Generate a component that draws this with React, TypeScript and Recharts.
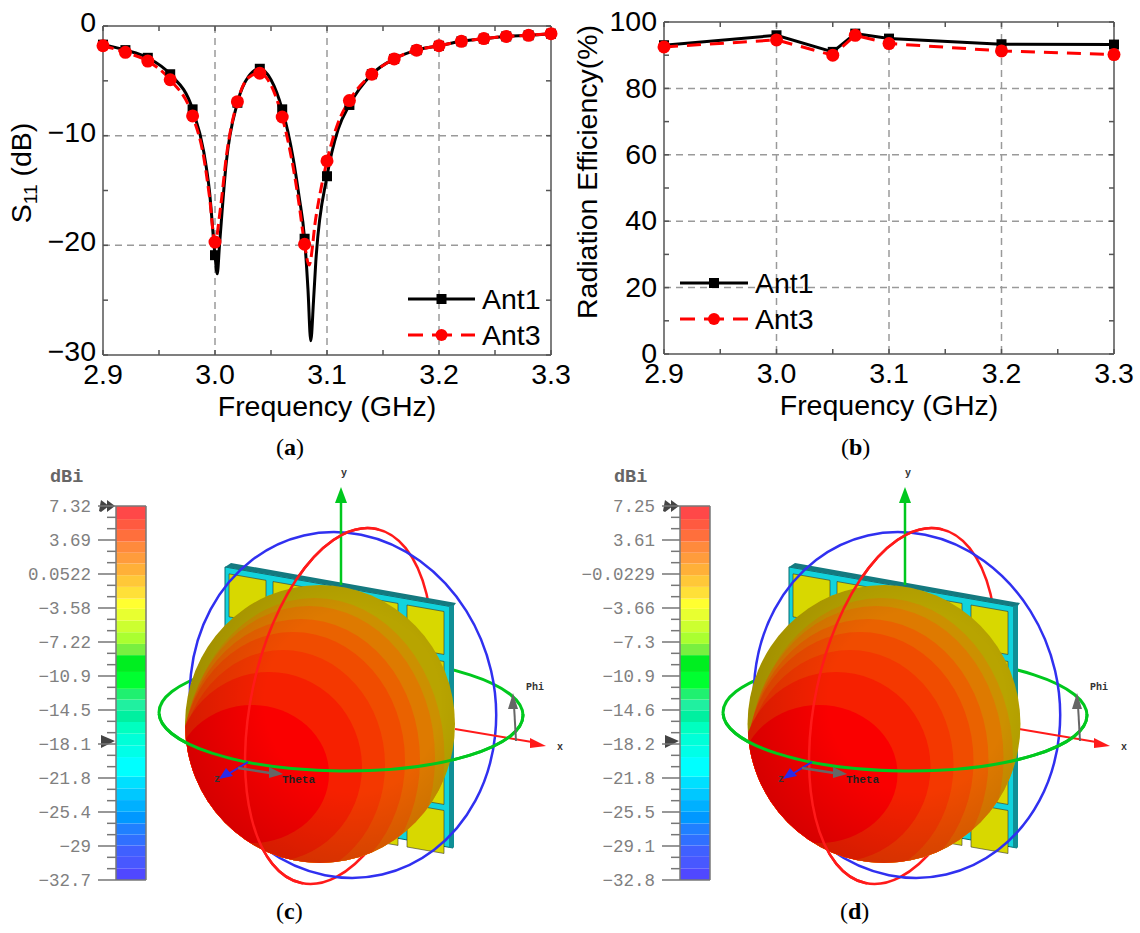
import React from 'react';
import { LineChart, Line, XAxis, YAxis, CartesianGrid, Legend, BarChart, Bar } from 'recharts';

const SANS = '"Liberation Sans", Arial, sans-serif';
const MONO = '"Liberation Mono", monospace';
const FS = 28.5;

// ---- S11 panel data
const ant1Freq = [2.9, 2.92, 2.94, 2.96, 2.98, 2.99, 2.995, 3.0, 3.002, 3.004, 3.01, 3.02, 3.03, 3.04, 3.05, 3.06, 3.065, 3.07, 3.075, 3.08, 3.083, 3.0855, 3.088, 3.09, 3.1, 3.11, 3.12, 3.14, 3.16, 3.18, 3.2, 3.22, 3.24, 3.26, 3.28, 3.3];
const ant1S11 = [-1.7, -2.2, -2.9, -4.4, -7.6, -11.5, -15, -20.9, -22.6, -20, -12.5, -7.0, -4.6, -3.9, -4.9, -7.6, -9.6, -12.2, -15.5, -19.4, -24, -28.7, -25, -21.5, -13.7, -9.4, -7.2, -4.4, -3.0, -2.2, -1.8, -1.4, -1.15, -0.95, -0.85, -0.7];
const ant3Freq = [2.9, 2.92, 2.94, 2.96, 2.98, 2.99, 2.995, 3.0, 3.005, 3.01, 3.02, 3.03, 3.04, 3.05, 3.06, 3.065, 3.07, 3.075, 3.08, 3.084, 3.09, 3.1, 3.11, 3.12, 3.14, 3.16, 3.18, 3.2, 3.22, 3.24, 3.26, 3.28, 3.3];
const ant3S11 = [-1.8, -2.4, -3.2, -4.9, -8.2, -12, -15.5, -19.7, -16.5, -12, -6.9, -4.7, -4.3, -5.4, -8.3, -10.4, -13, -16.2, -19.9, -21.8, -17.5, -12.3, -8.8, -6.8, -4.4, -3.0, -2.2, -1.8, -1.4, -1.15, -0.95, -0.85, -0.7];
const s11Markers = [2.9, 2.92, 2.94, 2.96, 2.98, 3.0, 3.02, 3.04, 3.06, 3.08, 3.1, 3.12, 3.14, 3.16, 3.18, 3.2, 3.22, 3.24, 3.26, 3.28, 3.3];

// ---- Efficiency panel data
const effFreq = [2.9, 3.0, 3.05, 3.07, 3.1, 3.2, 3.3];
const effAnt1 = [93, 96, 91, 96.5, 95, 93.3, 93.2];
const effAnt3 = [92.5, 94.6, 90, 96, 93.5, 91.3, 90.2];

// ---- Axis ticks
const freqTicks = [2.9, 2.95, 3.0, 3.05, 3.1, 3.15, 3.2, 3.25, 3.3];
const freqMajor = [2.9, 3.0, 3.1, 3.2, 3.3];
const freqGrid = [3.0, 3.1, 3.2];
const s11Ticks = [-30, -25, -20, -15, -10, -5, 0];
const s11Major = [-30, -20, -10, 0];
const s11Grid = [-10, -20];
const effTicks = [0, 10, 20, 30, 40, 50, 60, 70, 80, 90, 100];
const effMajor = [0, 20, 40, 60, 80, 100];
const effGrid = [20, 40, 60, 80];

// ---- Colour scale panels
const labelsC = ['7.32', '3.69', '0.0522', '-3.58', '-7.22', '-10.9', '-14.5', '-18.1', '-21.8', '-25.4', '-29', '-32.7'];
const labelsD = ['7.25', '3.61', '-0.0229', '-3.66', '-7.3', '-10.9', '-14.6', '-18.2', '-21.8', '-25.5', '-29.1', '-32.8'];
const bandColors = ['#ff4848', '#ff5a40', '#ff6f3c', '#ff8a3c', '#ff9c3c', '#ffb038', '#ffc838', '#ffe038', '#ffff30', '#e8ff30', '#ccff30', '#aaff30', '#78f040', '#00ee20', '#00ff30', '#20f070', '#20f0a0', '#00f0a0', '#00ffc0', '#00ffd8', '#00ffe8', '#00ffff', '#00e0ff', '#00c8ff', '#00b0ff', '#0098ff', '#2080ff', '#3070ff', '#4060ff', '#4858ff', '#5048ff'];
const bandSizes = [1.4, 1.15, 1.25, 1.2, 1.15, 1.25, 1.25, 1.25, 1.1, 1.25, 1.25, 1.25, 1.2, 1.8, 1.8, 1.15, 1.15, 1.25, 1.25, 1.25, 1.25, 2.1, 1.25, 1.25, 1.25, 1.25, 1.2, 1.15, 1.15, 1.3, 1.25];

// ---- Sphere shading bands, innermost first
const sphereCx = [252, 269, 283, 293, 301, 309, 314.5];
const sphereCy = [774, 767, 765, 761, 760, 758, 757];
const sphereRx = [77, 93, 102, 112, 119, 126, 130];
const sphereRy = [69, 95, 115, 129, 141, 152, 159];
const sphereColors = ['#fa0000', '#f62000', '#f43800', '#f04c00', '#ea6200', '#de7a00', '#cc9000', '#b8a400'];

const zip = (xs: number[], ys: number[]) => xs.map((f, i) => ({ f, v: ys[i] }));

function marker(props: any, kind: 'square' | 'circle', only?: number[]) {
  const { cx, cy, payload, index } = props;
  if (only && !only.includes(payload.f)) return <g key={index} />;
  if (kind === 'square') return <rect key={index} x={cx - 5} y={cy - 5} width={10} height={10} fill="#000" />;
  return <circle key={index} cx={cx} cy={cy} r={6.5} fill="#ff0000" />;
}

function legendContent(gapText: number, lineW: number) {
  return (props: any) => (
    <div>
      {(props.payload || []).filter((p: any) => p.value === 'Ant1' || p.value === 'Ant3').map((p: any, i: number) => (
        <div key={i} style={{ height: 36, display: 'flex', alignItems: 'center', fontFamily: SANS, fontSize: FS, color: '#000' }}>
          <svg width={lineW} height={20} style={{ marginRight: gapText, overflow: 'visible' }}>
            <line x1={0} x2={lineW} y1={10} y2={10} stroke={p.color} strokeWidth={3} strokeDasharray={p.value === 'Ant3' ? '15 9 20 9' : undefined} />
            {p.value === 'Ant1'
              ? <rect x={lineW / 2 - 5} y={5} width={10} height={10} fill="#000" />
              : <circle cx={lineW / 2} cy={10} r={6} fill="#ff0000" />}
          </svg>
          <span>{p.value}</span>
        </div>
      ))}
    </div>
  );
}

function Panel(props: {
  left: number; width: number; plotLeft: number; plotRight: number; plotTop: number; plotBottom: number;
  yTicks: number[]; yMajor: number[]; yGrid: number[]; yDomain: [number, number]; yDy: number;
  d1: any[]; d3: any[]; markers?: number[]; curve: any; yLabel: any; legendLeft: number; legendTop: number;
  lineW: number; dash: string;
}) {
  const H = 440;
  const axisW = 60;
  const frame = { stroke: '#555', strokeWidth: 1.5 };
  const xf = (v: number) => (freqMajor.includes(v) ? v.toFixed(1) : '');
  const yf = (v: number) => (props.yMajor.includes(v) ? String(v).replace('-', '\u2212') : '');
  const tickStyle = { fill: '#000', fontSize: FS, fontFamily: SANS };
  return (
    <div style={{ position: 'absolute', left: props.left, top: 0 }}>
      <LineChart
        width={props.width} height={H}
        margin={{ top: props.plotTop - 1, left: props.plotLeft - axisW, right: props.width - props.plotRight - 1, bottom: H - props.plotBottom - 50 }}
      >
        <CartesianGrid xAxisId="b" yAxisId="l" horizontalValues={props.yGrid} verticalValues={freqGrid} stroke="#9a9a9a" strokeWidth={1.5} strokeDasharray="7 5" />
        <XAxis xAxisId="b" dataKey="f" type="number" domain={[2.9, 3.3]} ticks={freqTicks} interval={0}
          tickFormatter={xf} tick={tickStyle} tickSize={-5} tickMargin={14} height={50} axisLine={frame} tickLine={frame}
          label={{ value: 'Frequency (GHz)', position: 'bottom', offset: -9, fill: '#000', fontSize: FS, fontFamily: SANS }} />
        <XAxis xAxisId="t" orientation="top" dataKey="f" type="number" domain={[2.9, 3.3]} ticks={freqTicks} interval={0}
          tickFormatter={() => ''} tickSize={-5} height={1} axisLine={frame} tickLine={frame} />
        <YAxis yAxisId="l" type="number" domain={props.yDomain} ticks={props.yTicks} interval={0} tickFormatter={yf}
          tick={{ ...tickStyle, dy: props.yDy }} tickSize={-5} tickMargin={12} width={axisW} axisLine={frame} tickLine={frame} label={props.yLabel} />
        <YAxis yAxisId="r" orientation="right" type="number" domain={props.yDomain} ticks={props.yTicks} interval={0}
          tickFormatter={() => ''} tickSize={-5} width={1} axisLine={frame} tickLine={frame} />
        <Legend layout="vertical" align="center" verticalAlign="middle" content={legendContent(7, props.lineW)}
          wrapperStyle={{ left: props.legendLeft, top: props.legendTop, width: 170, height: 72 }} />
        <Line xAxisId="t" yAxisId="r" data={props.d1} dataKey="v" name="frame" stroke="none" dot={false} activeDot={false} legendType="none" isAnimationActive={false} />
        <Line xAxisId="b" yAxisId="l" data={props.d1} dataKey="v" name="Ant1" type={props.curve} stroke="#000" strokeWidth={3}
          dot={(p: any) => marker(p, 'square', props.markers)} activeDot={false} isAnimationActive={false} />
        <Line xAxisId="b" yAxisId="l" data={props.d3} dataKey="v" name="Ant3" type={props.curve} stroke="#ff0000" strokeWidth={3} strokeDasharray={props.dash}
          dot={(p: any) => marker(p, 'circle', props.markers)} activeDot={false} isAnimationActive={false} />
      </LineChart>
    </div>
  );
}

const s11Label = () => (
  <text x={31} y={173} transform="rotate(-90 31 173)" textAnchor="middle" fontFamily={SANS} fontSize={FS} fill="#000">
    S<tspan fontSize={19} dy={6}>11</tspan><tspan dy={-6}> (dB)</tspan>
  </text>
);
const effLabel = () => (
  <text x={27} y={172} transform="rotate(-90 27 172)" textAnchor="middle" fontFamily={SANS} fontSize={FS} fill="#000">
    Radiation Efficiency(%)
  </text>
);

function ScaleTick(p: any) {
  const major = p.index % 3 === 0;
  const lab = major ? p.labels[p.index / 3] : '';
  const w = major ? 18 : 9;
  return (
    <g>
      <rect x={116 - w} y={p.y - 0.75} width={w} height={1.5} fill="#777" />
      <text x={91} y={p.y + 6} textAnchor="end" fontFamily={MONO} fontSize={17.5} fill="#808080">{lab.replace('-', '\u2212')}</text>
    </g>
  );
}

function ColorBar({ left, labels }: { left: number; labels: string[] }) {
  const row: any = { c: 'scale' };
  const rev = [...bandSizes].reverse();
  const revColors = [...bandColors].reverse();
  rev.forEach((s, i) => { row['b' + i] = s; });
  const total = bandSizes.reduce((a, b) => a + b, 0);
  const step = total / (labels.length - 1);
  const ticks: number[] = [];
  for (let i = 0; i < labels.length; i++) {
    ticks.push(total - i * step);
    if (i < labels.length - 1) { ticks.push(total - i * step - step / 3); ticks.push(total - i * step - (2 * step) / 3); }
  }
  const frame = { stroke: '#777', strokeWidth: 1.5 };
  return (
    <div style={{ position: 'absolute', left, top: 490 }}>
      <BarChart width={150} height={410} data={[row]} barCategoryGap={0} margin={{ top: 15, left: 0, right: 3, bottom: 19 }}>
        <XAxis xAxisId="b" dataKey="c" height={1} tick={false} tickLine={false} axisLine={frame} />
        <XAxis xAxisId="t" orientation="top" dataKey="c" height={1} tick={false} tickLine={false} axisLine={frame} />
        <YAxis yAxisId="l" type="number" domain={[0, total]} ticks={ticks} interval={0} width={116} tick={<ScaleTick labels={labels} />} tickLine={false} axisLine={frame} />
        <YAxis yAxisId="r" orientation="right" type="number" domain={[0, total]} ticks={[0, total]} width={1} tick={false} tickLine={false} axisLine={frame} />
        {rev.map((_, i) => (
          <Bar key={i} xAxisId="b" yAxisId="l" dataKey={'b' + i} stackId="s" fill={revColors[i]} isAnimationActive={false} />
        ))}
      </BarChart>
    </div>
  );
}

function Scene({ left, id, grow }: { left: number; id: string; grow: number }) {
  const cx = 320; const cy = 724; const rx = 135 + grow; const ry = 139;
  const cols = [229, 273, 317, 361, 407];
  const rows = [605, 655, 705, 755, 804];
  const sk = 0.175;
  const patch = (x: number, y: number) => {
    const w = 37; const h = 43;
    const d0 = (x - 407) * sk;
    const d1 = (x + w - 407) * sk;
    return `${x},${y + d0} ${x + w},${y + d1} ${x + w},${y + d1 + h} ${x},${y + d0 + h}`;
  };
  return (
    <svg width={570} height={480} viewBox="0 450 570 480" style={{ position: 'absolute', left, top: 450 }}>
      <defs>
        <clipPath id={id + 'ball'}><ellipse cx={cx} cy={cy} rx={rx} ry={ry} /></clipPath>
        <clipPath id={id + 'redfront'}><rect x={0} y={450} width={341} height={480} /></clipPath>
        <clipPath id={id + 'greenfront'}><rect x={0} y={714} width={570} height={200} /></clipPath>
        <radialGradient id={id + 'shade'} cx="0.62" cy="0.42" r="0.72">
          <stop offset="0.45" stopColor="#000" stopOpacity={0} />
          <stop offset="1" stopColor="#000" stopOpacity={0.18} />
        </radialGradient>
      </defs>
      <ellipse cx={339} cy={706} rx={88} ry={181} transform="rotate(12 339 706)" fill="none" stroke="#ff1a1a" strokeWidth={2.5} />
      <ellipse cx={341} cy={714} rx={182} ry={57} fill="none" stroke="#00c81e" strokeWidth={3} transform="rotate(0.5 341 714)" />
      <polygon points="225,567 453,607 453,848 225,808" fill="#12d3dc" stroke="#0a6a70" strokeWidth={1} />
      <polygon points="225,567 231,563 456,603 453,607" fill="#14797f" />
      <polygon points="449,606 454,605 454,847 449,848" fill="#0f8f96" />
      {rows.flatMap((y, r) => cols.map((x, c) => (
        <polygon key={r + '-' + c} points={patch(x, y)} fill="#d8d800" stroke="#333" strokeWidth={0.6} />
      )))}
      <ellipse cx={343} cy={705} rx={152} ry={174} transform="rotate(-13 343 705)" fill="none" stroke="#3030f0" strokeWidth={2.5} />
      <line x1={341} y1={585} x2={341} y2={500} stroke="#00c81e" strokeWidth={2.5} />
      <polygon points="341,487 335,503 347,503" fill="#00c81e" />
      <line x1={455} y1={729} x2={532} y2={742} stroke="#ff1a1a" strokeWidth={2} />
      <polygon points="546,746 530,738 530,748" fill="#ff1a1a" />
      <ellipse cx={cx} cy={cy} rx={rx} ry={ry} fill={sphereColors[7]} />
      <g clipPath={`url(#${id}ball)`}>
        {[...sphereRx].reverse().map((r, i) => {
          const k = sphereRx.length - 1 - i;
          return <ellipse key={i} cx={sphereCx[k] + grow * 2} cy={sphereCy[k]} rx={r + grow} ry={sphereRy[k]} fill={sphereColors[k]} />;
        })}
        <ellipse cx={cx} cy={cy} rx={rx} ry={ry} fill={`url(#${id}shade)`} />
      </g>
      <ellipse cx={339} cy={706} rx={88} ry={181} transform="rotate(12 339 706)" fill="none" stroke="#ff1a1a" strokeWidth={2.5} clipPath={`url(#${id}redfront)`} />
      <g clipPath={`url(#${id}greenfront)`}>
        <ellipse cx={341} cy={714} rx={182} ry={57} fill="none" stroke="#00c81e" strokeWidth={3} transform="rotate(0.5 341 714)" />
      </g>
      <line x1={248} y1={762} x2={225} y2={776} stroke="#2a2ae8" strokeWidth={2} />
      <polygon points="219,779 226,768 233,776" fill="#2a2ae8" />
      <line x1={238} y1={768} x2={270} y2={773} stroke="#666" strokeWidth={2.5} />
      <polygon points="283,774 269,767 269,778" fill="#666" />
      <line x1={516} y1={741} x2={514} y2={705} stroke="#666" strokeWidth={2} />
      <polygon points="513,693 508,709 518,709" fill="#666" />
      <g fontFamily={MONO} fill="#333" fontSize={10} fontWeight={700}>
        <text x={282} y={783} fontSize={11} fill="#222">Theta</text>
        <text x={526} y={690} fontSize={10}>Phi</text>
        <text x={557} y={750}>x</text>
        <text x={341} y={476}>y</text>
        <text x={214} y={782}>z</text>
      </g>
      <g fontFamily={MONO} fontSize={18.5} fontWeight={700} fill="#666">
        <text x={50} y={482}>dBi</text>
      </g>
      <polygon points="101,500 109,506 101,512 99,511" fill="#444" />
      <polygon points="107,500 115,506 107,512" fill="#444" />
      <polygon points="101,735 115,741 101,748" fill="#444" />
    </svg>
  );
}

function Caption({ x, y, letter }: { x: number; y: number; letter: string }) {
  return (
    <div style={{ position: 'absolute', left: x, top: y, fontFamily: '"Liberation Serif", serif', fontSize: 24, color: '#000', lineHeight: '26px' }}>
      (<b>{letter}</b>)
    </div>
  );
}

export default function App() {
  return (
    <div style={{ position: 'absolute', left: 0, top: 0, width: 1140, height: 933, background: '#fff', overflow: 'hidden' }}>
      <Panel left={0} width={570} plotLeft={103} plotRight={551} plotTop={26} plotBottom={355}
        yTicks={s11Ticks} yMajor={s11Major} yGrid={s11Grid} yDomain={[-30, 0]} yDy={-4}
        d1={zip(ant1Freq, ant1S11)} d3={zip(ant3Freq, ant3S11)} markers={s11Markers} curve="monotoneX"
        yLabel={{ content: s11Label }} legendLeft={408} legendTop={281} lineW={67} dash="11 5" />
      <Panel left={570} width={570} plotLeft={94} plotRight={544} plotTop={22} plotBottom={354}
        yTicks={effTicks} yMajor={effMajor} yGrid={effGrid} yDomain={[0, 100]} yDy={-1}
        d1={zip(effFreq, effAnt1)} d3={zip(effFreq, effAnt3)} curve="linear"
        yLabel={{ content: effLabel }} legendLeft={110} legendTop={265} lineW={68} dash="14 9" />
      <Caption x={276} y={434} letter="a" />
      <Caption x={841} y={434} letter="b" />
      <Caption x={276} y={898} letter="c" />
      <Caption x={840} y={898} letter="d" />
      <Scene left={0} id="c" grow={0} />
      <Scene left={564} id="d" grow={1.5} />
      <ColorBar left={0} labels={labelsC} />
      <ColorBar left={564} labels={labelsD} />
    </div>
  );
}
